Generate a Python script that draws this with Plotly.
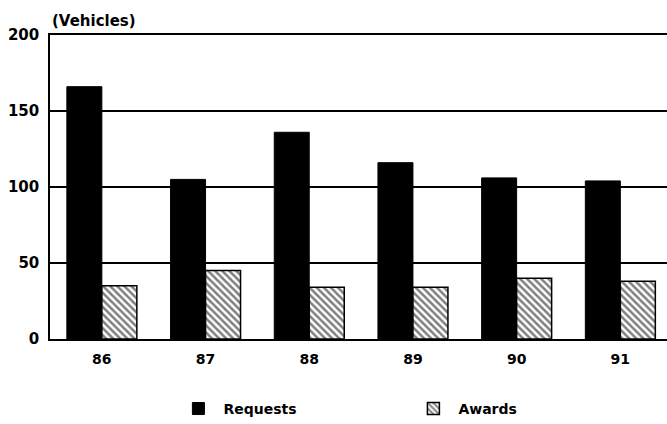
import plotly.graph_objects as go

years = ["86", "87", "88", "89", "90", "91"]
requests = [166, 105, 136, 116, 106, 104]
awards = [35, 45, 34, 34, 40, 38]
y_ticks = [0, 50, 100, 150, 200]

FONT = "DejaVu Sans"

fig = go.Figure()
fig.add_trace(go.Bar(
    x=years, y=requests, name="Requests",
    marker=dict(color="black", line=dict(color="black", width=1)),
))
fig.add_trace(go.Bar(
    x=years, y=awards, name="Awards",
    marker=dict(
        color="white",
        line=dict(color="black", width=1.5),
        pattern=dict(shape="\\", fgcolor="black", bgcolor="white", size=5, solidity=0.5),
    ),
))

fig.update_layout(
    width=667, height=424,
    margin=dict(l=50, r=0, t=35, b=85, autoexpand=False),
    paper_bgcolor="white", plot_bgcolor="white",
    barmode="group", bargap=0.325, bargroupgap=0,
    font=dict(family=FONT, color="black", weight="bold"),
    showlegend=True,
    legend=dict(
        orientation="h", x=0.2, xanchor="left", y=-0.23, yanchor="middle",
        entrywidth=180, entrywidthmode="pixels",
        font=dict(size=14, family=FONT, weight="bold"),
        itemwidth=40,
    ),
    xaxis=dict(
        type="category", range=[-0.5, 5.45], automargin=False,
        showline=True, linecolor="black", linewidth=1.5, mirror=True,
        showgrid=False, ticks="", tickfont=dict(size=14, family=FONT, weight="bold"),
        ticklabelstandoff=6,
    ),
    yaxis=dict(
        range=[0, 200], tickvals=y_ticks, automargin=False,
        showline=True, linecolor="black", linewidth=1.5,
        showgrid=True, gridcolor="black", gridwidth=1.5,
        zeroline=False, ticks="",
        tickfont=dict(size=15, family=FONT, weight="bold"),
        ticklabelstandoff=6,
    ),
    annotations=[dict(
        text="(Vehicles)", xref="paper", yref="paper", x=0, y=1.046,
        xanchor="left", yanchor="middle", showarrow=False,
        font=dict(size=15, family=FONT, weight="bold"),
    )],
)

fig.write_html(
    "out.html",
    config={"displayModeBar": False},
    post_script="document.body.style.margin='0';document.body.style.overflow='hidden';",
)
